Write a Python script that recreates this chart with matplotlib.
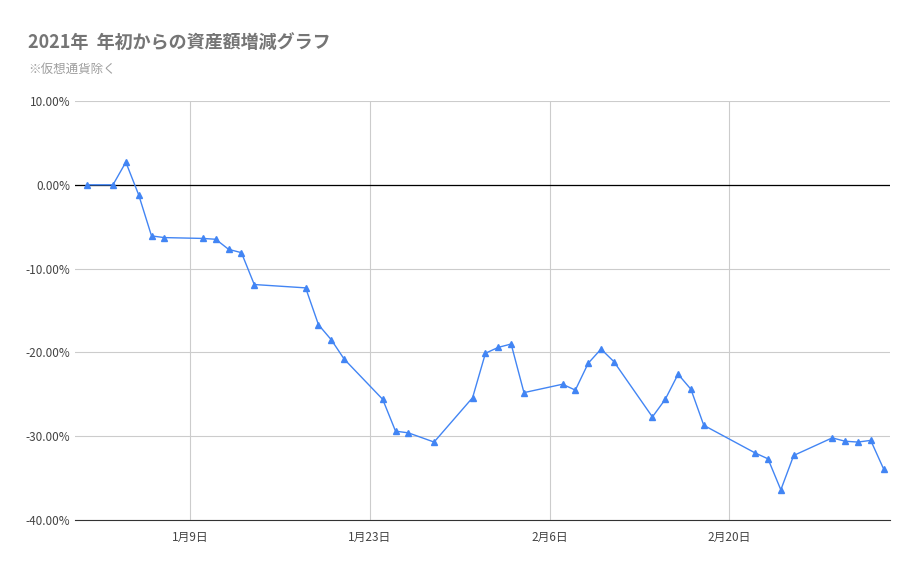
import matplotlib
matplotlib.use("Agg")
import matplotlib.pyplot as plt
import matplotlib.dates as mdates
import numpy as np
import datetime as dt

plt.rcParams['font.family'] = ['Noto Sans CJK JP', 'DejaVu Sans']

dates = ["2021-01-01","2021-01-03","2021-01-04","2021-01-05","2021-01-06","2021-01-07",
         "2021-01-10","2021-01-11","2021-01-12","2021-01-13","2021-01-14","2021-01-18",
         "2021-01-19","2021-01-20","2021-01-21","2021-01-24","2021-01-25","2021-01-26",
         "2021-01-28","2021-01-31","2021-02-01","2021-02-02","2021-02-03","2021-02-04",
         "2021-02-07","2021-02-08","2021-02-09","2021-02-10","2021-02-11","2021-02-14",
         "2021-02-15","2021-02-16","2021-02-17","2021-02-18","2021-02-22","2021-02-23",
         "2021-02-24","2021-02-25","2021-02-28","2021-03-01","2021-03-02","2021-03-03",
         "2021-03-04"]
values = [0.0, 0.0, 2.7, -1.2, -6.1, -6.3,
          -6.4, -6.5, -7.7, -8.1, -11.9, -12.3,
          -16.7, -18.5, -20.8, -25.6, -29.4, -29.6,
          -30.7, -25.4, -20.1, -19.4, -19.0, -24.8,
          -23.8, -24.5, -21.3, -19.6, -21.1, -27.7,
          -25.6, -22.6, -24.4, -28.7, -32.0, -32.7,
          -36.4, -32.3, -30.2, -30.6, -30.7, -30.5,
          -33.9]
tick_dates = ["2021-01-09", "2021-01-23", "2021-02-06", "2021-02-20"]
tick_labels = ["1月9日", "1月23日", "2月6日", "2月20日"]
yticks = [10, 0, -10, -20, -30, -40]

x = [dt.datetime.fromisoformat(d) for d in dates]
fig = plt.figure(figsize=(9.21, 5.69), dpi=100)
ax = fig.add_axes([75/921, 1-520/569, 815/921, 419/569])
ax.plot(x, values, color='#4285f4', lw=1, marker='^', ms=5, zorder=3)
ax.axhline(0, color='black', lw=0.9, zorder=2)
ax.set_xlim(dt.datetime(2020, 12, 31, 1), dt.datetime(2021, 3, 4, 12))
ax.set_ylim(-40, 10)
ax.set_yticks(yticks)
ax.set_yticklabels([f"{v:.2f}%" for v in yticks])
ax.set_xticks([dt.datetime.fromisoformat(d) for d in tick_dates])
ax.set_xticklabels(tick_labels)
ax.grid(True, color='#cccccc', lw=0.8)
ax.tick_params(length=0, labelsize=8.5, colors='#444444')
ax.tick_params(axis='x', pad=8)
for s in ax.spines.values():
    s.set_visible(False)
ax.spines['bottom'].set_visible(True)
ax.spines['bottom'].set_color('#333333')
fig.text(28/921, 1-42/569, "2021年  年初からの資産額増減グラフ", fontsize=13, fontweight='bold', color='#757575', va='center')
fig.text(28/921, 1-69/569, "※仮想通貨除く", fontsize=9, color='#9e9e9e', va='center')
fig.savefig("out.png", dpi=100)
